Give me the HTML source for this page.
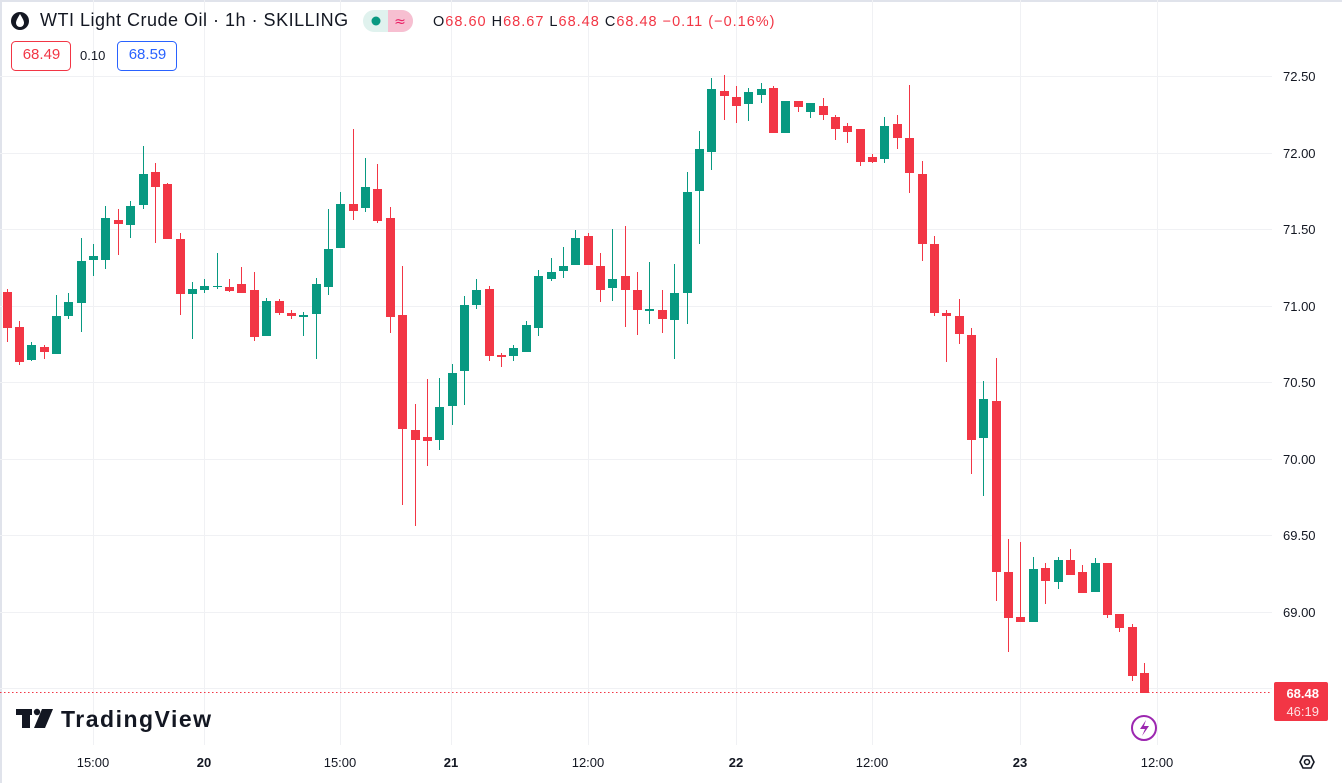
<!DOCTYPE html>
<html><head><meta charset="utf-8"><style>
html,body{margin:0;padding:0;background:#fff;}
body{width:1342px;height:783px;overflow:hidden;position:relative;font-family:"Liberation Sans",sans-serif;}
.t{position:absolute;white-space:nowrap;}
</style></head><body>
<svg id="c" width="1342" height="783" style="position:absolute;left:0;top:0">
<rect x="0" y="0" width="1342" height="2" fill="#e0e3eb"/>
<rect x="0" y="0" width="2" height="783" fill="#e0e3eb"/>
<g id="grid" stroke="#f0f1f4" stroke-width="1"></g>
<g id="cd"></g>
<line x1="0" y1="692.5" x2="1272" y2="692.5" stroke="#f23645" stroke-width="1" stroke-dasharray="1.5,2.5"/>
<g font-family="Liberation Sans, sans-serif" font-size="13" fill="#131722">
<text x="1283" y="81">72.50</text><text x="1283" y="158">72.00</text><text x="1283" y="234">71.50</text>
<text x="1283" y="311">71.00</text><text x="1283" y="387">70.50</text><text x="1283" y="464">70.00</text>
<text x="1283" y="540">69.50</text><text x="1283" y="617">69.00</text>
<text x="93" y="767" text-anchor="middle">15:00</text><text x="204" y="767" text-anchor="middle" font-weight="bold">20</text>
<text x="340" y="767" text-anchor="middle">15:00</text><text x="451" y="767" text-anchor="middle" font-weight="bold">21</text>
<text x="588" y="767" text-anchor="middle">12:00</text><text x="736" y="767" text-anchor="middle" font-weight="bold">22</text>
<text x="872" y="767" text-anchor="middle">12:00</text><text x="1020" y="767" text-anchor="middle" font-weight="bold">23</text>
<text x="1157" y="767" text-anchor="middle">12:00</text>
</g>
<rect x="1274" y="682" width="54" height="39" rx="2" fill="#f23645"/>
<text x="1319" y="698" text-anchor="end" font-family="Liberation Sans, sans-serif" font-size="13" font-weight="bold" fill="#fff">68.48</text>
<text x="1319" y="716" text-anchor="end" font-family="Liberation Sans, sans-serif" font-size="13" fill="#fde0e3">46:19</text>
<circle cx="1144" cy="728" r="12" fill="none" stroke="#9c27b0" stroke-width="2"/>
<path d="M1146 720 L1140 729 L1145 729 L1142 736 L1149 726 L1144 726 Z" fill="#9c27b0"/>
<polygon points="1300,762 1303,756 1311,756 1314,762 1311,768 1303,768" fill="none" stroke="#131722" stroke-width="1.6"/>
<circle cx="1307" cy="762" r="2.5" fill="none" stroke="#131722" stroke-width="1.5"/>
<g fill="#131722"><rect x="16" y="709" width="16" height="6"/><rect x="22" y="709" width="8" height="19"/><circle cx="37" cy="712" r="3.2"/><polygon points="42,709 53,709 45,728 34,728"/></g>
<text x="61" y="727" font-family="Liberation Sans, sans-serif" font-size="23" font-weight="bold" fill="#131722" letter-spacing="1.5">TradingView</text>
<circle cx="20" cy="21" r="9" fill="#131722"/>
<path d="M20 14 C17 19 16 21 16 23 A4 4 0 0 0 24 23 C24 21 23 19 20 14 Z" fill="#fff"/>
<rect x="363" y="10" width="50" height="22" rx="11" fill="#e0f2ee"/>
<path d="M388 10 H402 A11 11 0 0 1 402 32 H388 Z" fill="#f7bfd1"/>
<circle cx="376" cy="21" r="4.5" fill="#089981"/>
<text x="400" y="26" text-anchor="middle" font-family="DejaVu Sans, sans-serif" font-size="14" fill="#e91e63">≈</text>
<rect x="11.5" y="41.5" width="59" height="29" rx="4" fill="none" stroke="#f23645"/>
<rect x="117.5" y="41.5" width="59" height="29" rx="4" fill="none" stroke="#2962ff"/>
</svg>
<div class="t" style="left:40px;top:10px;font-size:18px;letter-spacing:0.5px;color:#131722">WTI Light Crude Oil · 1h · SKILLING</div>
<div class="t" style="left:433px;top:14px;font-size:14.5px;letter-spacing:1px;color:#f23645"><span style="color:#131722">O</span>68.60 <span style="color:#131722">H</span>68.67 <span style="color:#131722">L</span>68.48 <span style="color:#131722">C</span>68.48 −0.11 (−0.16%)</div>
<div class="t" style="left:12px;top:46px;width:59px;text-align:center;font-size:15px;color:#f23645">68.49</div>
<div class="t" style="left:80px;top:48px;font-size:13px;color:#131722">0.10</div>
<div class="t" style="left:118px;top:46px;width:59px;text-align:center;font-size:15px;color:#2962ff">68.59</div>
<script>
var d=[[292,328,289,342,'r'],[327,362,321,365,'r'],[345,360,342,361,'g'],[347,352,345,359,'r'],[316,354,295,354,'g'],[302,316,293,319,'g'],[261,303,238,332,'g'],[256,260,244,276,'g'],[218,260,206,269,'g'],[220,224,209,255,'r'],[206,225,201,238,'g'],[174,205,146,209,'g'],[172,187,163,243,'r'],[184,239,183,239,'r'],[239,294,233,315,'r'],[289,294,282,339,'g'],[286,290,279,293,'g'],[286,287,253,289,'g'],[287,291,279,292,'r'],[284,293,267,293,'r'],[290,337,272,341,'r'],[301,336,298,336,'g'],[301,313,299,315,'r'],[313,316,310,319,'r'],[315,317,312,336,'g'],[284,314,278,359,'g'],[249,287,209,295,'g'],
[204,248,192,248,'g'],[204,211,129,220,'r'],[187,208,158,212,'g'],[189,221,164,223,'r'],[218,317,207,333,'r'],[315,429,266,505,'r'],[430,440,404,526,'r'],[437,441,379,466,'r'],[407,440,378,450,'g'],[373,406,364,425,'g'],[305,371,296,405,'g'],[290,305,279,309,'g'],[289,356,286,361,'r'],[355,357,353,367,'r'],[348,356,345,361,'g'],[325,352,321,352,'g'],[276,328,270,336,'g'],[272,279,258,281,'g'],[266,271,247,278,'g'],[238,265,230,265,'g'],[236,265,233,265,'r'],[266,290,253,302,'r'],[279,288,229,301,'g'],[276,290,226,327,'r'],[290,310,272,335,'r'],[309,311,262,324,'g'],[310,319,290,333,'r'],[293,320,264,359,'g'],[192,293,172,324,'g'],
[149,191,131,244,'g'],[89,152,78,170,'g'],[91,96,75,120,'r'],[97,106,86,123,'r'],[92,104,88,121,'g'],[89,95,83,103,'g'],[88,133,86,133,'r'],[101,133,101,133,'g'],[101,107,101,112,'r'],[103,112,103,118,'g'],[106,115,98,120,'r'],[117,129,115,140,'r'],[126,132,123,143,'r'],[129,162,129,166,'r'],[157,162,154,163,'r'],[126,159,117,163,'g'],[124,138,115,149,'r'],[138,173,85,193,'r'],[174,244,161,261,'r'],[244,313,236,316,'r'],[313,316,310,362,'r'],[316,334,299,344,'r'],
[335,440,328,474,'r'],[399,438,381,496,'g'],[401,572,358,601,'r'],[572,618,539,652,'r'],[617,622,542,622,'r'],[569,622,557,622,'g'],[568,581,563,604,'r'],[560,582,557,589,'g'],[560,575,549,575,'r'],[572,593,565,593,'r'],[563,592,558,592,'g'],[563,615,563,618,'r'],[614,628,614,632,'r'],[627,676,624,681,'r'],[673,693,663,693,'r']];
var s='',g='';
[76,153,229,306,382,459,535,612,688].forEach(function(y){g+='<line x1="0" y1="'+(y+.5)+'" x2="1272" y2="'+(y+.5)+'"/>';});
[93,204,340,451,588,736,872,1020,1157].forEach(function(x){g+='<line x1="'+(x+.5)+'" y1="0" x2="'+(x+.5)+'" y2="745"/>';});
d.forEach(function(c,i){var x=6.5+i*12.365,col=c[4]=='g'?'#089981':'#f23645';var xr=Math.round(x);
s+='<rect x="'+xr+'" y="'+c[2]+'" width="1" height="'+Math.max(1,c[3]-c[2])+'" fill="'+col+'"/>';
s+='<rect x="'+(xr-4)+'" y="'+c[0]+'" width="9" height="'+Math.max(1,c[1]-c[0])+'" fill="'+col+'"/>';});
document.getElementById('grid').innerHTML=g;document.getElementById('cd').innerHTML=s;
</script>
</body></html>
